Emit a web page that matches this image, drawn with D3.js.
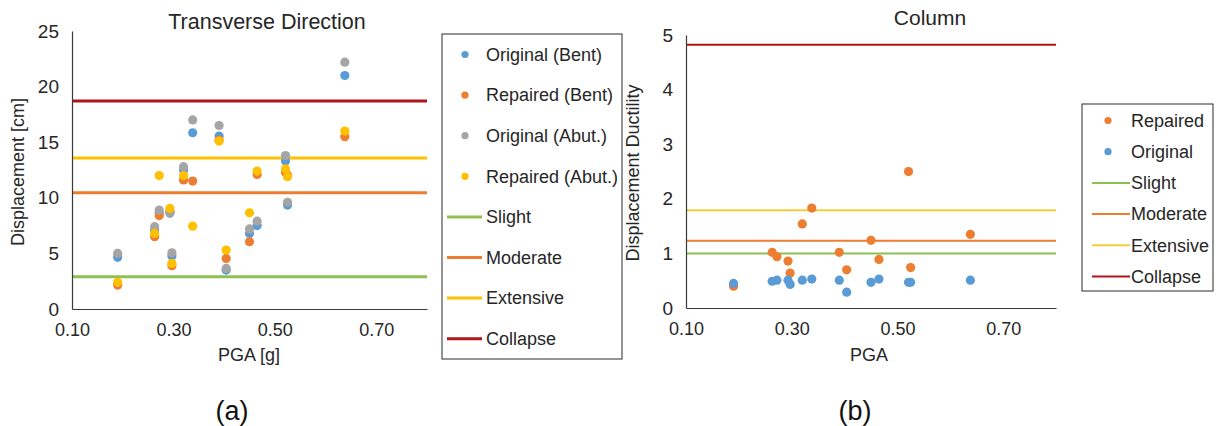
<!DOCTYPE html>
<html>
<head>
<meta charset="utf-8">
<script src="https://cdn.jsdelivr.net/npm/d3@7/dist/d3.min.js"></script>
<style>
  html, body { margin: 0; padding: 0; background: #fff; }
  svg { display: block; font-family: "Liberation Sans", Arial, sans-serif; }
</style>
</head>
<body>
<svg id="fig" width="1217" height="426"></svg>
<script>
// Peak ground acceleration of each record [g]
const pga = [0.19, 0.263, 0.272, 0.293, 0.297, 0.32, 0.338, 0.39, 0.404, 0.45, 0.465, 0.521, 0.525, 0.638];

// (a) Transverse displacement [cm]
const originalBent = [4.65, 7.1, 8.7, 8.7, 4.76, 12.5, 15.85, 15.55, 3.5, 6.8, 7.5, 13.3, 9.35, 21.0];
const repairedBent = [2.15, 6.5, 8.4, 8.8, 3.9, 11.6, 11.5, 15.2, 4.55, 6.05, 12.1, 12.3, 12.0, 15.5];
const originalAbut = [5.0, 7.4, 8.9, 8.6, 5.06, 12.8, 17.0, 16.5, 3.65, 7.2, 7.9, 13.8, 9.6, 22.2];
const repairedAbut = [2.4, 6.8, 12.0, 9.05, 4.1, 12.0, 7.45, 15.1, 5.3, 8.65, 12.4, 12.6, 11.9, 16.0];

// (b) Column displacement ductility
const repairedDuct = [0.40, 1.02, 0.94, 0.86, 0.64, 1.54, 1.83, 1.02, 0.70, 1.24, 0.89, 2.50, 0.74, 1.35];
const originalDuct = [0.45, 0.49, 0.51, 0.51, 0.43, 0.51, 0.53, 0.51, 0.29, 0.47, 0.53, 0.47, 0.47, 0.51];

// Damage-state limits
const limitNames = ["Slight", "Moderate", "Extensive", "Collapse"];
const limitsDisp = [2.9, 10.46, 13.58, 18.7];
const limitsDuct = [1.0, 1.23, 1.79, 4.82];

const xTicks = [0.1, 0.3, 0.5, 0.7];
const yTicksDisp = [0, 5, 10, 15, 20, 25];
const yTicksDuct = [0, 1, 2, 3, 4, 5];

const C = {
  blue: "#5B9BD5", orange: "#ED7D31", gray: "#A5A5A5", gold: "#FFC000",
  slight: "#8CC152", moderate: "#ED7D31", extensive: "#FFC000", collapse: "#B0141C",
  extensiveB: "#F2CE3C", text: "#262626", axis: "#3a3a3a"
};

const svg = d3.select("#fig");

function drawPanel(cfg) {
  const g = svg.append("g");
  const x = d3.scaleLinear().domain([0.1, 0.8]).range([cfg.x0, cfg.x1]);
  const y = d3.scaleLinear().domain(cfg.yDomain).range([cfg.y0, cfg.y1]);

  // limit-state lines
  g.selectAll("line.limit").data(cfg.limits).join("line")
    .attr("x1", x(0.1)).attr("x2", x(0.8))
    .attr("y1", d => y(d.v)).attr("y2", d => y(d.v))
    .attr("stroke", d => d.c).attr("stroke-width", cfg.lw);

  // axes
  const ax = g.append("g").attr("transform", `translate(0,${cfg.y0})`)
    .call(d3.axisBottom(x).tickValues(xTicks).tickFormat(d3.format(".2f")).tickSize(0).tickPadding(14));
  const ay = g.append("g").attr("transform", `translate(${cfg.x0},0)`)
    .call(d3.axisLeft(y).tickValues(cfg.yTicks).tickFormat(d3.format("d")).tickSize(0).tickPadding(13));
  [ax, ay].forEach(a => {
    a.select(".domain").attr("stroke", C.axis).attr("stroke-width", 1.2);
    a.selectAll("text").attr("font-size", 18).attr("fill", C.text).attr("font-family", "Liberation Sans, Arial, sans-serif");
  });
  ay.selectAll("text").attr("font-size", 19);

  // points
  cfg.series.forEach(s => {
    g.append("g").selectAll("circle").data(pga.map((p, i) => [p, s.v[i]])).join("circle")
      .attr("cx", d => x(d[0])).attr("cy", d => y(d[1])).attr("r", 4.6)
      .attr("fill", s.c);
  });

  // titles
  g.append("text").attr("x", cfg.titleX).attr("y", cfg.titleY).attr("text-anchor", "middle")
    .attr("font-size", cfg.titleSize).attr("fill", C.text).text(cfg.title);
  g.append("text").attr("transform", `translate(${cfg.yLabX},${cfg.yLabY}) rotate(-90)`)
    .attr("text-anchor", "middle").attr("font-size", 18).attr("fill", C.text).text(cfg.yLabel);
  g.append("text").attr("x", cfg.xLabX).attr("y", 361).attr("text-anchor", "middle")
    .attr("font-size", 18).attr("fill", C.text).text(cfg.xLabel);

  // legend
  const L = cfg.legend;
  const lg = g.append("g");
  lg.append("rect").attr("x", L.x).attr("y", L.y).attr("width", L.w).attr("height", L.h)
    .attr("fill", "none").attr("stroke", "#2a2a2a").attr("stroke-width", 1);
  const items = cfg.series.slice().sort((a, b) => a.order - b.order).map(s => ({name: s.name, c: s.c, dot: true}))
    .concat(cfg.limits.map(l => ({name: l.name, c: l.c, dot: false})));
  items.forEach((it, i) => {
    const cy = L.first + i * L.step;
    if (it.dot) {
      lg.append("circle").attr("cx", L.dotX).attr("cy", cy).attr("r", 3.6).attr("fill", it.c);
    } else {
      lg.append("line").attr("x1", L.lx0).attr("x2", L.lx1).attr("y1", cy).attr("y2", cy)
        .attr("stroke", it.c).attr("stroke-width", cfg.lw);
    }
    lg.append("text").attr("x", L.tx).attr("y", cy).attr("dy", "0.35em")
      .attr("font-size", 18).attr("fill", C.text).text(it.name);
  });
}

drawPanel({
  x0: 72, x1: 427, y0: 309, y1: 31, yDomain: [0, 25], yTicks: yTicksDisp, lw: 3,
  limits: limitNames.map((n, i) => ({name: n, v: limitsDisp[i], c: [C.slight, C.moderate, C.extensive, C.collapse][i]})),
  series: [
    {name: "Original (Bent)", v: originalBent, c: C.blue, order: 0},
    {name: "Repaired (Bent)", v: repairedBent, c: C.orange, order: 1},
    {name: "Original (Abut.)", v: originalAbut, c: C.gray, order: 2},
    {name: "Repaired (Abut.)", v: repairedAbut, c: C.gold, order: 3}
  ],
  title: "Transverse Direction", titleX: 267, titleY: 29, titleSize: 21.5,
  yLabel: "Displacement [cm]", yLabX: 24, yLabY: 172,
  xLabel: "PGA [g]", xLabX: 249,
  legend: {x: 442, y: 34, w: 180, h: 325, first: 54.5, step: 40.6, dotX: 465, lx0: 447, lx1: 482, tx: 486}
});

drawPanel({
  x0: 686, x1: 1056, y0: 308, y1: 35, yDomain: [0, 5], yTicks: yTicksDuct, lw: 2,
  limits: limitNames.map((n, i) => ({name: n, v: limitsDuct[i], c: [C.slight, C.moderate, C.extensiveB, C.collapse][i]})),
  series: [
    {name: "Repaired", v: repairedDuct, c: C.orange, order: 0},
    {name: "Original", v: originalDuct, c: C.blue, order: 1}
  ],
  title: "Column", titleX: 930, titleY: 25, titleSize: 21,
  yLabel: "Displacement Ductility", yLabX: 639, yLabY: 173,
  xLabel: "PGA", xLabX: 869,
  legend: {x: 1082, y: 104, w: 131, h: 187, first: 120.5, step: 31.2, dotX: 1108, lx0: 1092, lx1: 1130, tx: 1131}
});

// panel captions
svg.append("text").attr("x", 232).attr("y", 420).attr("text-anchor", "middle")
  .attr("font-size", 27).attr("fill", "#111").text("(a)");
svg.append("text").attr("x", 855).attr("y", 420).attr("text-anchor", "middle")
  .attr("font-size", 27).attr("fill", "#111").text("(b)");
</script>
</body>
</html>
